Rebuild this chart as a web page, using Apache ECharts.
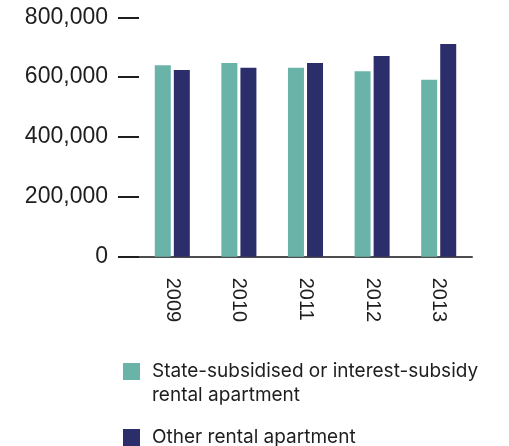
<!DOCTYPE html>
<html>
<head>
<meta charset="utf-8">
<script src="https://cdn.jsdelivr.net/npm/echarts@6/dist/echarts.min.js"></script>
<style>
  html, body { margin: 0; padding: 0; background: #ffffff; }
  #chart { width: 509px; height: 446px; }
</style>
</head>
<body>
<div id="chart"></div>
<script>
// Rental apartments by type, 2009–2013
const years = ['2009', '2010', '2011', '2012', '2013'];
const subsidisedName = 'State-subsidised or interest-subsidy\nrental apartment';
const otherName = 'Other rental apartment';
const subsidised = [640000, 647000, 631000, 620000, 591000];
const other = [624000, 631000, 647000, 671000, 711000];
const yMin = 0;
const yMax = 800000;
const yStep = 200000;

const TEAL = '#6ab3a9';
const NAVY = '#2c2d6b';
const INK = '#1e1e1e';

const chart = echarts.init(document.getElementById('chart'));

chart.setOption({
  animation: false,
  backgroundColor: '#ffffff',
  grid: { left: 139, right: 37, top: 17.3, bottom: 189.3, containLabel: false },
  xAxis: {
    type: 'category',
    data: years,
    boundaryGap: true,
    axisLine: { show: true, lineStyle: { color: '#4d4d4d', width: 2 } },
    axisTick: { show: false },
    axisLabel: {
      rotate: -90,
      margin: 21,
      color: INK,
      fontFamily: 'Liberation Sans',
      fontSize: 20,
      padding: [8, 0, 0, 0]
    },
    splitLine: { show: false }
  },
  yAxis: {
    type: 'value',
    min: yMin,
    max: yMax,
    interval: yStep,
    axisLine: { show: false },
    axisTick: { show: true, inside: false, length: 21, lineStyle: { color: '#1e1e1e', width: 2 } },
    axisLabel: {
      margin: 31,
      color: INK,
      fontFamily: 'Liberation Sans',
      fontSize: 23,
      formatter: v => v.toLocaleString('en-US')
    },
    splitLine: { show: false }
  },
  legend: {
    orient: 'vertical',
    left: 118,
    top: 330.5,
    itemWidth: 17,
    itemHeight: 17,
    itemGap: 18,
    icon: 'rect',
    selectedMode: false,
    // a leading blank line keeps the first text line level with its swatch
    formatter: name => (name.indexOf('\n') >= 0 ? '\n' + name : name),
    textStyle: {
      color: INK,
      fontFamily: 'Inter',
      fontSize: 19,
      lineHeight: 24,
      padding: [0, 0, 0, 7]
    },
    data: [subsidisedName, otherName]
  },
  series: [
    {
      name: subsidisedName,
      type: 'bar',
      data: subsidised,
      barWidth: 16,
      barGap: '19%',
      itemStyle: { color: TEAL }
    },
    {
      name: otherName,
      type: 'bar',
      data: other,
      barWidth: 16,
      itemStyle: { color: NAVY }
    }
  ]
});
</script>
</body>
</html>
